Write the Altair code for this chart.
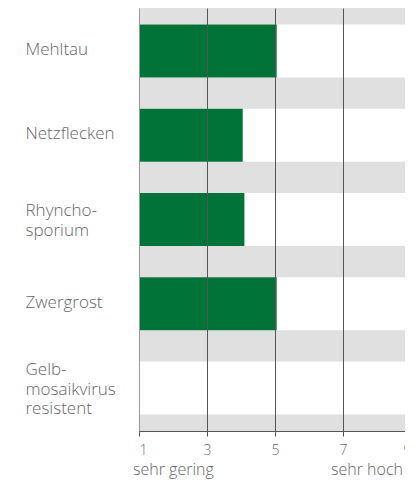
import altair as alt
import pandas as pd

categories = ["Mehltau", "Netzflecken", "Rhyncho-|sporium", "Zwergrost", "Gelb-|mosaikvirus|resistent"]
values = [5.05, 4.05, 4.1, 5.05, None]
ticks = [1, 3, 5, 7, 9]
end_labels = ["sehr gering", "sehr hoch"]
end_positions = [1, 9]

df = pd.DataFrame({"cat": categories, "val": values})
ends = pd.DataFrame({"text": end_labels, "x": end_positions})

FONT = "Open Sans"
FW = 300
TXT = "#666666"
GREEN = "#007339"
W, H = 272, 423

xscale = alt.Scale(domain=[1, 9], nice=False, zero=False)
yscale = alt.Scale(domain=categories, paddingInner=0.371, paddingOuter=0.196)

xaxis = alt.Axis(
    values=ticks, grid=True,
    gridColor=alt.condition("datum.value == 1", alt.value("#9a9a9a"), alt.value("#555555")),
    gridWidth=1, domainColor="#555555", tickColor="#555555", tickSize=5,
    labelPadding=7, labelFontSize=14, labelColor="#707070", labelFont=FONT, labelFontWeight=FW,
    title=None, zindex=1, format="d",
)
yaxis = alt.Axis(
    labelExpr="split(datum.label, '|')", labelAlign="left", labelPadding=114,
    ticks=False, tickSize=0, domain=False, labelFontSize=17, labelLineHeight=19.5,
    labelColor=TXT, labelFont=FONT, labelFontWeight=FW, labelBaseline="middle",
    labelOffset={
        "condition": [
            {"test": "length(split(datum.value, '|')) == 3", "value": -17.5},
            {"test": "length(split(datum.value, '|')) == 2", "value": -8.5},
        ],
        "value": -1,
    },
    title=None, labelLimit=0,
)

base = alt.Chart(df).encode(y=alt.Y("cat:N", scale=yscale, sort=categories, axis=yaxis))

white = base.mark_bar(color="white").encode(
    x=alt.X(datum=1, type="quantitative", scale=xscale, axis=xaxis),
    x2=alt.datum(9),
)
bars = base.mark_bar(color=GREEN).encode(
    x=alt.X("val:Q", scale=xscale, axis=xaxis),
    x2=alt.datum(1),
)

endbase = alt.Chart(ends)
left_txt = endbase.transform_filter("datum.x == 1").mark_text(
    font=FONT, fontWeight=FW, fontSize=16, color=TXT, align="left", baseline="alphabetic", dx=-6
).encode(x=alt.X("x:Q", scale=xscale, axis=xaxis), y=alt.value(H + 44), text="text:N")
right_txt = endbase.transform_filter("datum.x == 9").mark_text(
    font=FONT, fontWeight=FW, fontSize=16, color=TXT, align="right", baseline="alphabetic", dx=-8
).encode(x=alt.X("x:Q", scale=xscale, axis=xaxis), y=alt.value(H + 44), text="text:N")

chart = alt.layer(white, bars, left_txt, right_txt).properties(
    width=W, height=H,
    autosize=alt.AutoSizeParams(type="none"),
    padding={"left": 131, "top": 0, "right": -6, "bottom": 48},
).configure_view(fill="#e0e0e0", strokeWidth=0)

chart.save("out.html", embed_options={"renderer": "svg", "actions": False})
